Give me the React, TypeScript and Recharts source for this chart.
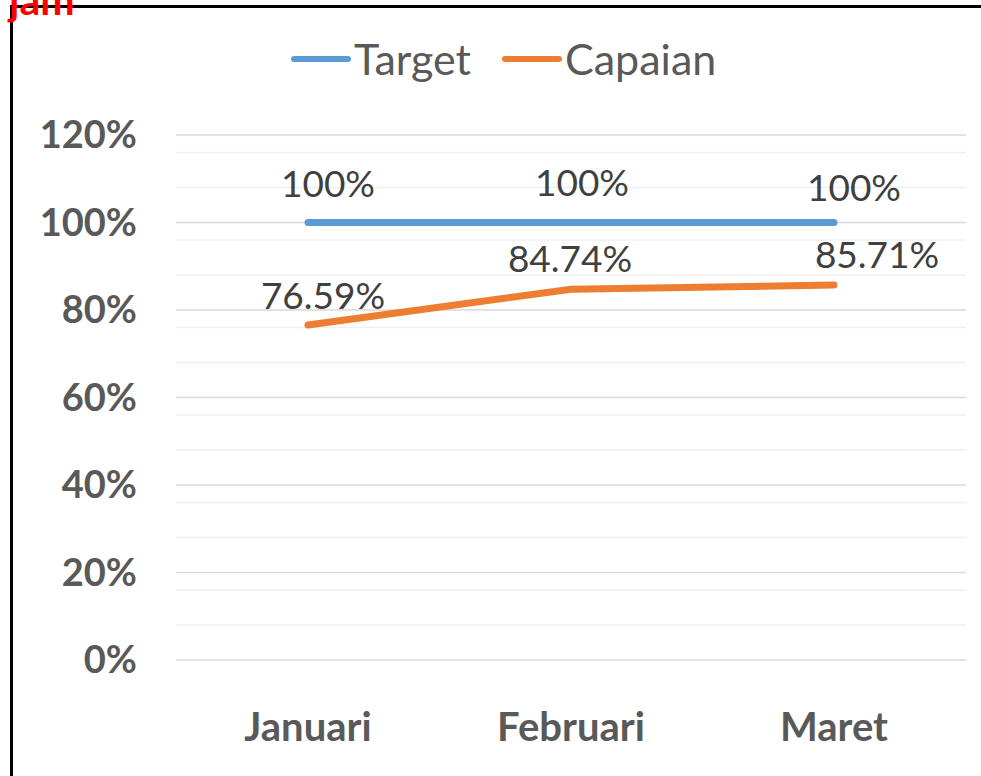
import { LineChart, Line, XAxis, YAxis, CartesianGrid, LabelList } from "recharts";

const months = ["Januari", "Februari", "Maret"];
const target = [100, 100, 100];
const capaian = [76.59, 84.74, 85.71];
const yTicks = [0, 20, 40, 60, 80, 100, 120];
const minorTicks = [4, 8, 12, 16, 24, 28, 32, 36, 44, 48, 52, 56, 64, 68, 72, 76, 84, 88, 92, 96, 104, 108, 112, 116];

const data = months.map((m, i) => ({ name: m, target: target[i], capaian: capaian[i] }));

const FONT = "Lato, 'Open Sans', sans-serif";
const BLUE = "#5B9BD5";
const ORANGE = "#ED7D31";

// label nudges, roughly how excel placed them
const targetDx = [20, 11, 20];
const targetDy = [26, 27, 22];
const capaianDx = [15, -1, 43];
const capaianDy = [16, 17, 17];

const makeLabel = (dxs: number[], dys: number[], fmt: (v: number) => string) => (props: any) => {
  const { x, y, value, index } = props;
  return (
    <text x={x + dxs[index]} y={y - dys[index]} textAnchor="middle" fontSize={37} fill="#404040" fontFamily={FONT}>
      {fmt(value)}
    </text>
  );
};

function LegendBox() {
  const items = [
    { name: "Target", color: BLUE },
    { name: "Capaian", color: ORANGE },
  ];
  return (
    <div style={{ position: "absolute", left: 290, top: 33, display: "flex", alignItems: "center", fontFamily: FONT, fontSize: 43, lineHeight: "52px", color: "#595959" }}>
      {items.map((it) => (
        <div key={it.name} style={{ display: "flex", alignItems: "center", marginRight: 30 }}>
          <svg width={62} height={12}>
            <line x1={4} y1={6} x2={58} y2={6} stroke={it.color} strokeWidth={6} strokeLinecap="round" />
          </svg>
          <span style={{ marginLeft: 2 }}>{it.name}</span>
        </div>
      ))}
    </div>
  );
}

export default function App() {
  return (
    <div style={{ position: "absolute", left: 0, top: 0, width: 981, height: 776, overflow: "hidden", background: "#fff" }}>
      <div style={{ position: "absolute", left: 10, top: 5, width: 1200, height: 1200, border: "3px solid #000", boxSizing: "border-box" }} />
      <div style={{ position: "absolute", left: 9, top: -21, color: "#FF0000", fontWeight: 700, fontSize: 41, fontFamily: FONT, lineHeight: "41px" }}>jam</div>
      <LegendBox />
      <div style={{ position: "absolute", left: 0, top: 0 }}>
        <LineChart width={981} height={776} data={data} margin={{ top: 135, right: 15, bottom: 86, left: 0 }}>
          <CartesianGrid vertical={false} stroke="#EFEFEF" strokeWidth={1.5} horizontalValues={minorTicks} />
          <CartesianGrid vertical={false} stroke="#D9D9D9" strokeWidth={1.5} horizontalValues={yTicks} />
          <XAxis
            dataKey="name"
            axisLine={false}
            tickLine={false}
            padding={{ left: 132, right: 132 }}
            tickMargin={47}
            tick={{ fontSize: 40, fontWeight: 700, fill: "#595959", fontFamily: FONT }}
            interval={0}
          />
          <YAxis
            width={176}
            domain={[0, 120]}
            ticks={yTicks}
            axisLine={false}
            tickLine={false}
            tickMargin={33}
            tickFormatter={(v) => `${v}%`}
            tick={{ fontSize: 38, fontWeight: 700, fill: "#595959", fontFamily: FONT }}
          />
          <Line dataKey="target" name="Target" stroke={BLUE} strokeWidth={7} strokeLinecap="round" dot={false} isAnimationActive={false}>
            <LabelList dataKey="target" content={makeLabel(targetDx, targetDy, (v) => `${v}%`)} />
          </Line>
          <Line dataKey="capaian" name="Capaian" stroke={ORANGE} strokeWidth={7} strokeLinecap="round" dot={false} isAnimationActive={false}>
            <LabelList dataKey="capaian" content={makeLabel(capaianDx, capaianDy, (v) => `${v.toFixed(2)}%`)} />
          </Line>
        </LineChart>
      </div>
    </div>
  );
}
